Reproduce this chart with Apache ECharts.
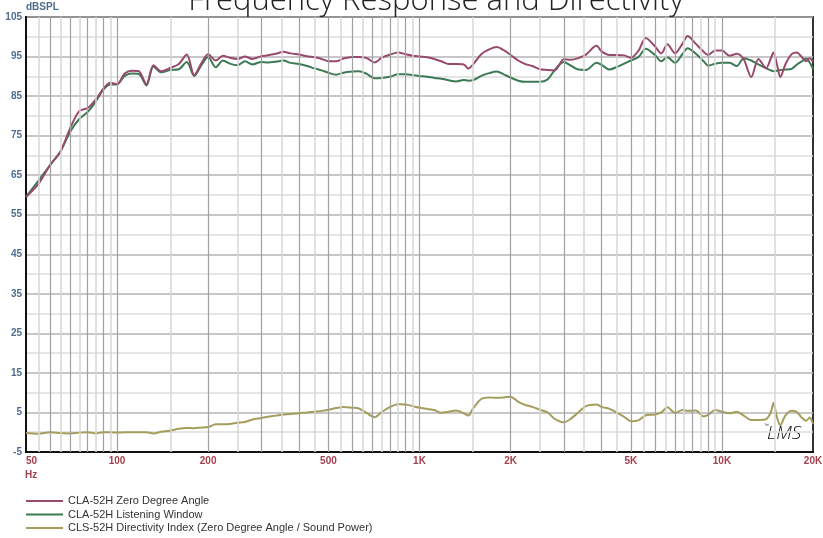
<!DOCTYPE html>
<html>
<head>
<meta charset="utf-8">
<title>Frequency Response and Directivity</title>
<script src="https://cdn.jsdelivr.net/npm/echarts@6/dist/echarts.min.js"></script>
<style>
  html, body { margin: 0; padding: 0; background: #fff; }
  #chart { width: 823px; height: 538px; }
</style>
</head>
<body>
<div id="chart"></div>
<script>
// frequencies (Hz) shared by all three curves
const freqs = [
  50, 55, 60, 65, 70, 75, 80, 85, 90, 95,
  100, 106, 112, 118, 125, 132, 140, 150, 160, 170,
  180, 190, 200, 212, 224, 236, 250, 265, 280, 300,
  315, 335, 355, 375, 400, 425, 450, 475, 500, 530,
  560, 600, 630, 670, 710, 750, 800, 850, 900, 950,
  1000, 1060, 1120, 1180, 1250, 1320, 1400, 1450, 1500, 1600,
  1700, 1800, 1900, 2000, 2120, 2240, 2360, 2500, 2650, 2800,
  3000, 3150, 3350, 3550, 3850, 4000, 4250, 4500, 4750, 5000,
  5300, 5600, 6000, 6300, 6600, 7000, 7400, 7700, 8200, 8700,
  9000, 9500, 10000, 10600, 11200, 11800, 12500, 13200, 14000, 14500,
  14800, 15200, 15600, 16200, 17000, 17700, 18300, 19000, 19500, 20000
]

const zeroDeg = [
  59.5, 62.8, 67.5, 71.0, 76.9, 81.2, 82.0, 84.1, 86.8, 88.4,
  88.0, 90.7, 91.4, 91.3, 88.0, 92.8, 91.3, 92.1, 93.1, 95.5,
  90.3, 93.3, 95.6, 94.0, 95.2, 94.7, 94.4, 95.0, 94.4, 95.1,
  95.3, 95.7, 96.2, 95.8, 95.5, 95.1, 94.8, 94.4, 93.8, 93.8,
  94.5, 94.9, 94.9, 94.6, 93.5, 94.7, 95.5, 96.0, 95.6, 95.2,
  95.0, 94.8, 94.4, 93.8, 93.1, 93.1, 93.0, 92.0, 92.9, 95.6,
  96.8, 97.4, 96.6, 95.4, 94.0, 93.1, 92.6, 91.8, 91.6, 91.5,
  94.3, 94.2, 94.6, 95.5, 97.7, 96.3, 95.4, 95.4, 95.3, 94.7,
  96.5, 99.7, 97.6, 95.8, 98.1, 95.8, 98.2, 100.2, 98.2, 96.2,
  95.4, 96.5, 96.5, 95.2, 95.7, 94.3, 89.8, 94.4, 92.1, 94.5,
  96.0, 93.0, 89.8, 93.0, 95.6, 96.0, 95.0, 93.8, 94.6, 93.7
]

const listenWin = [
  59.5, 63.6, 67.5, 71.0, 76.0, 79.2, 81.0, 83.6, 86.6, 87.9,
  88.0, 90.1, 90.7, 90.6, 87.7, 92.5, 91.0, 91.6, 91.8, 93.6,
  90.1, 92.8, 94.9, 92.3, 94.0, 93.2, 92.8, 93.8, 93.0, 93.6,
  93.5, 93.7, 94.0, 93.4, 93.1, 92.6, 92.0, 91.5, 90.9, 90.4,
  90.9, 91.2, 91.3, 90.6, 89.5, 89.6, 89.9, 90.5, 90.5, 90.3,
  90.1, 89.9, 89.6, 89.4, 89.0, 88.7, 89.1, 88.9, 89.0, 90.1,
  90.8, 91.2, 90.5, 89.7, 88.9, 88.6, 88.6, 88.6, 89.2, 91.6,
  93.6, 92.8, 91.7, 91.6, 93.4, 92.9, 91.7, 92.4, 93.2, 94.0,
  94.9, 97.0, 95.4, 93.8, 94.8, 93.4, 95.6, 97.1, 95.7, 93.8,
  92.7, 93.2, 93.4, 93.4, 92.6, 94.6, 94.0, 93.0, 92.0, 91.5,
  91.3, 91.4, 91.6, 91.7, 91.9, 93.0, 93.7, 94.5, 93.5, 91.9
]

const dirIndex = [
  -0.2, -0.4, 0.0, -0.2, -0.3, -0.1, 0.0, -0.3, 0.0, 0.0,
  -0.1, 0.0, 0.0, 0.0, 0.0, -0.3, 0.1, 0.4, 0.9, 1.1,
  1.0, 1.2, 1.3, 2.0, 2.0, 2.1, 2.4, 2.6, 3.2, 3.6,
  3.9, 4.2, 4.5, 4.6, 4.8, 5.0, 5.2, 5.4, 5.7, 6.1,
  6.4, 6.2, 6.0, 4.8, 3.8, 5.1, 6.4, 7.1, 7.0, 6.6,
  6.2, 5.9, 5.6, 4.9, 5.2, 5.5, 4.8, 4.2, 5.9, 8.4,
  8.8, 8.7, 8.8, 9.0, 7.7, 6.9, 6.4, 5.7, 5.0, 3.4,
  2.5, 3.3, 5.0, 6.6, 7.0, 6.4, 5.9, 4.9, 3.9, 2.8,
  3.0, 4.3, 4.5, 5.0, 6.3, 4.9, 5.6, 5.4, 5.5, 4.0,
  4.4, 5.6, 5.2, 4.8, 5.2, 4.2, 3.1, 3.1, 3.3, 5.0,
  7.4, 3.8, 1.8, 4.2, 5.4, 5.1, 3.8, 2.9, 3.7, 2.1
]

const xTicks = [50, 100, 200, 500, 1000, 2000, 5000, 10000, 20000]
const xTickLabels = ['50', '100', '200', '500', '1K', '2K', '5K', '10K', '20K']

const seriesNames = [
  'CLA-52H Zero Degree Angle',
  'CLA-52H Listening Window',
  'CLS-52H Directivity Index (Zero Degree Angle / Sound Power)'
]
const colors = ['#98496c', '#3b7a53', '#a49d5c']

// log grid: dark lines at 1..9 x decade, light ones half way
const darkLines = []
const lightLines = []
for (const d of [10, 100, 1000, 10000]) {
  for (let n = 1; n <= 9; n++) {
    if (n * d > 50 && n * d < 20000) darkLines.push(n * d)
    if ((n + 0.5) * d > 50 && (n + 0.5) * d < 20000) lightLines.push((n + 0.5) * d)
  }
}

const pairs = ys => freqs.map((f, i) => [f, ys[i]])
const labelFont = 'Liberation Sans, Arial, sans-serif'

const chart = echarts.init(document.getElementById('chart'))

chart.setOption({
  animation: false,
  title: {
    text: 'Frequency Response and Directivity',
    left: 431,
    textAlign: 'center',
    top: -19,
    textStyle: { fontFamily: 'Open Sans', fontWeight: 300, fontSize: 31, color: '#222' }
  },
  legend: {
    data: seriesNames,
    orient: 'vertical',
    left: 26,
    top: 495,
    padding: 0,
    itemWidth: 37,
    itemHeight: 2,
    itemGap: 1.5,
    icon: 'rect',
    textStyle: { fontFamily: labelFont, fontSize: 11, color: '#333', lineHeight: 12 }
  },
  grid: { left: 26, right: 10, top: 17, bottom: 86, show: true, borderColor: '#333', borderWidth: 2 },
  xAxis: {
    type: 'log',
    logBase: 10,
    min: 50,
    max: 20000,
    axisLine: { onZero: false, lineStyle: { color: '#111', width: 2 } },
    axisTick: { show: false },
    axisLabel: { show: false },
    splitLine: { show: false }
  },
  yAxis: {
    type: 'value',
    min: -5,
    max: 105,
    interval: 5,
    name: 'dBSPL',
    nameLocation: 'end',
    nameGap: 5,
    nameTextStyle: { align: 'left', fontFamily: labelFont, fontWeight: 'bold', fontSize: 10, color: '#4f6d8f' },
    axisLine: { show: true, lineStyle: { color: '#111', width: 2 } },
    axisTick: { show: false },
    axisLabel: {
      margin: 4,
      fontFamily: labelFont,
      fontWeight: 'bold',
      fontSize: 10,
      color: '#4f6d8f',
      formatter: v => ((v + 5) % 10 === 0 ? String(v) : '')
    },
    splitLine: { lineStyle: { color: ['#b4b4b4', '#dcdcdc'], width: 1.5 } }
  },
  graphic: [
    { type: 'text', left: 25, top: 470, style: { text: 'Hz', font: 'bold 10px ' + labelFont, fill: '#a3404d' } },
    { type: 'text', left: 767, top: 424, style: { text: 'LMS', font: 'italic 300 19px "Open Sans"', fill: '#111' } },
    { type: 'text', left: 764, top: 423, style: { text: '\u2122', font: '5px sans-serif', fill: '#333' } }
  ],
  series: [
    {
      name: 'grid',
      type: 'line',
      data: [],
      silent: true,
      z: 1,
      markLine: {
        silent: true,
        symbol: ['none', 'none'],
        label: { show: false },
        data: [
          ...lightLines.map(v => ({ xAxis: v, lineStyle: { color: '#d6d6d6', width: 1.5, type: 'solid' } })),
          ...darkLines.map(v => ({ xAxis: v, lineStyle: { color: '#a0a0a0', width: 1.2, type: 'solid' } }))
        ]
      }
    },
    {
      name: 'ticks',
      type: 'line',
      data: [],
      silent: true,
      z: 1,
      markLine: {
        silent: true,
        symbol: ['none', 'none'],
        lineStyle: { color: 'rgba(0,0,0,0)', width: 0 },
        label: {
          show: true,
          position: 'start',
          distance: 4,
          fontFamily: labelFont,
          fontWeight: 'bold',
          fontSize: 10,
          color: '#a3404d'
        },
        data: xTicks.map((v, i) => ({
          xAxis: v,
          label: i === 0 ? { formatter: xTickLabels[i], align: 'left' } : { formatter: xTickLabels[i] }
        }))
      }
    },
    ...[listenWin, zeroDeg, dirIndex].map((ys, k) => {
      const idx = [1, 0, 2][k]
      return {
        name: seriesNames[idx],
        type: 'line',
        data: pairs(ys),
        symbol: 'none',
        smooth: 0.3,
        z: 3,
        lineStyle: { color: colors[idx], width: 2 },
        itemStyle: { color: colors[idx] }
      }
    })
  ]
})
</script>
</body>
</html>
